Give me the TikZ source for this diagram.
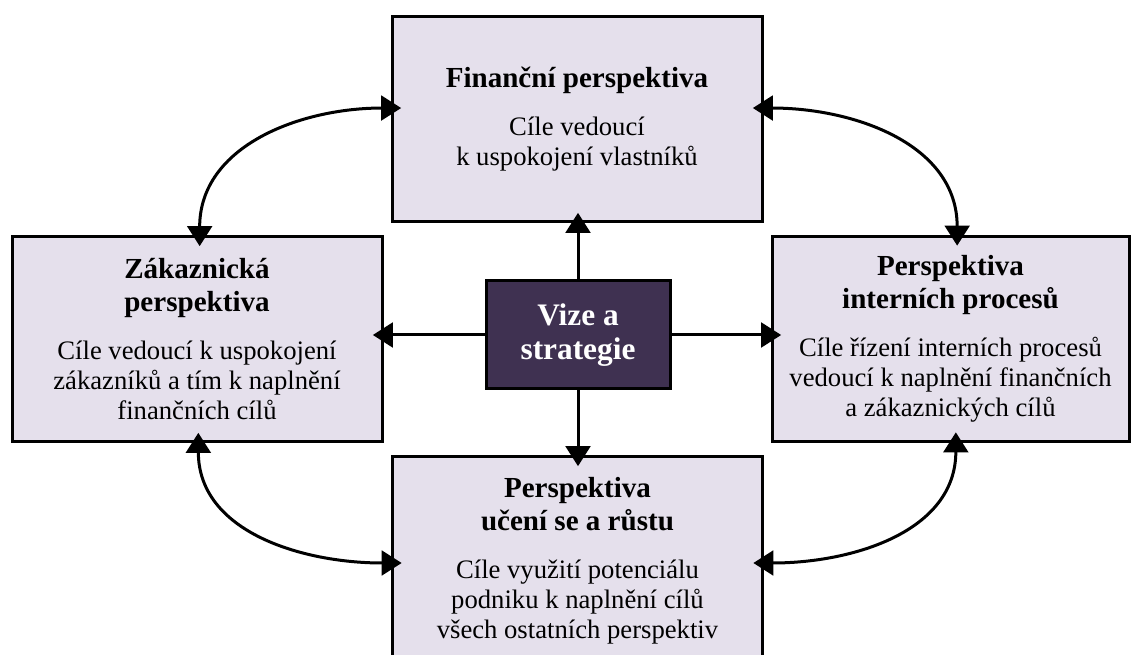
\documentclass[tikz,border=0pt]{standalone}
\usepackage{fontspec}
\setmainfont{Liberation Serif}
\usetikzlibrary{arrows.meta}

\definecolor{perspfill}{HTML}{E5E0EC}
\definecolor{vizefill}{HTML}{3F3151}

\newcommand{\ptitle}[1]{{\fontsize{21.8}{24.75}\selectfont\bfseries #1}}

\begin{document}
\begin{tikzpicture}[x=0.75pt,y=-0.75pt,
	persp/.style={draw, fill=perspfill, line width=2.25pt, minimum width=277.5pt, minimum height=153.75pt, inner sep=0pt, align=center, font=\fontsize{20}{22.5}\selectfont},
	vize/.style={draw, fill=vizefill, line width=2.25pt, minimum width=138pt, minimum height=81pt, inner sep=0pt, align=center, text=white, font=\fontsize{23.5}{25.5}\selectfont\bfseries},
	arr/.style={line width=2.25pt, -{Triangle[width=18.5pt,length=15pt]}, shorten >=-8pt},
	arrboth/.style={line width=2.25pt, {Triangle[width=18.5pt,length=15pt]}-{Triangle[width=18.5pt,length=15pt]}, shorten >=-8pt, shorten <=-8pt}]

	\useasboundingbox (0,0) rectangle (1131,655);
	\clip (0,0) rectangle (1131,655);

	\node[persp] (fin) at (577,119.5) {\ptitle{Finanční perspektiva}\\[13.5pt] Cíle vedoucí\\ k uspokojení vlastníků};
	\node[persp] (zak) at (197,339.5) {\ptitle{Zákaznická}\\[2.25pt] \ptitle{perspektiva}\\[13.5pt] Cíle vedoucí k uspokojení\\ zákazníků a tím k naplnění\\ finančních cílů};
	\node[persp, minimum width=267.75pt] (int) at (950.5,339) {\ptitle{Perspektiva}\\[2.25pt] \ptitle{interních procesů}\\[13.5pt] Cíle řízení interních procesů\\ vedoucí k naplnění finančních\\ a zákaznických cílů};
	\node[persp, minimum height=156pt] (lrn) at (577.5,561) {\ptitle{Perspektiva}\\[2.25pt] \ptitle{učení se a růstu}\\[13.5pt] Cíle využití potenciálu\\ podniku k naplnění cílů\\ všech ostatních perspektiv};
	\node[vize] (vz) at (578,335) {Vize a\\ strategie};

	\foreach \n / \a / \b in {
	fin/north/south,
	lrn/south/north}
	{
		\draw[arr] (vz.\a) -- (vz.\a |- \n.\b);
	};
	\foreach \n / \a / \b in {
	zak/west/east,
	int/east/west}
	{
		\draw[arr] (vz.\a) -- (vz.\a -| \n.\b);
	};

	\draw[arrboth] ([yshift=8.6pt]fin.west) to[out=180,in=90] ([xshift=2pt]zak.north);
	\draw[arrboth] ([yshift=8.6pt]fin.east) to[out=0,in=90] ([xshift=5pt]int.north);
	\draw[arrboth] ([xshift=1pt]zak.south) to[out=-90,in=180] ([yshift=-1.5pt]lrn.west);
	\draw[arrboth] ([xshift=4pt]int.south) to[out=-90,in=0] ([yshift=-1.5pt]lrn.east);
\end{tikzpicture}
\end{document}
